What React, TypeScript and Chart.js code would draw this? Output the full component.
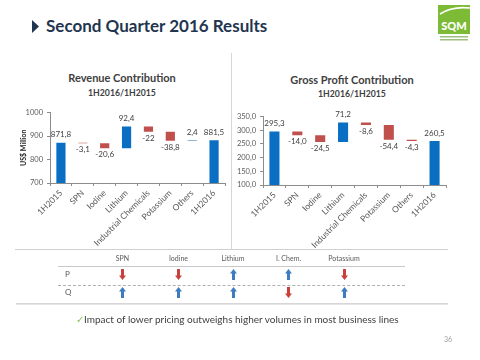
import React, { useEffect, useRef } from "react";
import { Chart, registerables } from "chart.js";

Chart.register(...registerables);

// ---------- data ----------
const categories = ["1H2015", "SPN", "Iodine", "Lithium", "Industrial Chemicals", "Potassium", "Others", "1H2016"];
const revenueValues = [871.8, -3.1, -20.6, 92.4, -22, -38.8, 2.4, 881.5];
const grossProfitValues = [295.3, -14.0, -24.5, 71.2, -8.6, -54.4, -4.3, 260.5];
const revenueTicks = { min: 700, max: 1000, step: 100 };
const profitTicks = { min: 100, max: 350, step: 50 };
const tableHeaders = ["SPN", "Iodine", "Lithium", "I. Chem.", "Potassium"];
const priceTrend = ["down", "down", "up", "up", "down"];
const quantityTrend = ["up", "up", "up", "down", "up"];

const BLUE = "#0a6fc2";
const RED = "#c0504d";
const FONT = "Lato, 'Open Sans', sans-serif";

function waterfall(values: number[]) {
  const out: [number, number][] = [];
  let run = 0;
  values.forEach((v, i) => {
    if (i === 0 || i === values.length - 1) {
      out.push([0, v]);
      run = v;
    } else {
      out.push([run, run + v]);
      run += v;
    }
  });
  return out;
}

const labelPlugin = {
  id: "wfLabels",
  afterDatasetsDraw(chart: any, _args: any, opts: any) {
    const { ctx } = chart;
    const meta = chart.getDatasetMeta(0);
    const values: number[] = opts.values || [];
    const fmt: (v: number) => string = opts.fmt || ((v: number) => String(v));
    ctx.save();
    ctx.font = `8px ${FONT}`;
    ctx.fillStyle = "#404040";
    ctx.textAlign = "center";
    ctx.textBaseline = "middle";
    meta.data.forEach((el: any, i: number) => {
      const p = el.getProps(["x", "y", "base"], true);
      const top = Math.min(p.y, p.base);
      const bottom = Math.max(p.y, p.base);
      const v = values[i];
      const ty = v < 0 ? bottom + 6.5 : top - 8;
      ctx.fillText(fmt(v), p.x, ty);
    });
    ctx.restore();
  },
};

type WFProps = {
  values: number[];
  ticks: { min: number; max: number; step: number };
  tickFmt: (v: number) => string;
  labelFmt: (v: number) => string;
  yTitle?: string;
  yWidth: number;
  xHeight: number;
  padding: { top: number; left: number; right: number; bottom: number };
  barPct: number;
  width: number;
  height: number;
};

function WaterfallChart(props: WFProps) {
  const ref = useRef<HTMLCanvasElement>(null);
  useEffect(() => {
    const n = props.values.length;
    const colors = props.values.map((v, i) => (i === 0 || i === n - 1 || v >= 0 ? BLUE : RED));
    const chart = new Chart(ref.current as HTMLCanvasElement, {
      type: "bar",
      data: {
        labels: categories,
        datasets: [
          {
            data: waterfall(props.values) as any,
            backgroundColor: colors,
            borderSkipped: false,
            borderWidth: 0,
            barPercentage: props.barPct,
            categoryPercentage: 1,
          },
        ],
      },
      options: {
        animation: false,
        responsive: false,
        maintainAspectRatio: false,
        devicePixelRatio: 1,
        layout: { padding: props.padding },
        plugins: {
          legend: { display: false },
          tooltip: { enabled: false },
          wfLabels: { values: props.values, fmt: props.labelFmt },
        } as any,
        scales: {
          x: {
            afterFit: (s: any) => {
              s.height = props.xHeight;
            },
            grid: { drawOnChartArea: false, tickLength: 3, color: "#8c8c8c", offset: true },
            border: { color: "#8c8c8c" },
            ticks: {
              minRotation: 45,
              maxRotation: 45,
              autoSkip: false,
              padding: 2,
              color: "#595959",
              font: { family: FONT, size: 8.5 },
            },
          },
          y: {
            min: props.ticks.min,
            max: props.ticks.max,
            afterFit: (s: any) => {
              s.width = props.yWidth;
            },
            grid: { drawOnChartArea: false, tickLength: 3, color: "#8c8c8c" },
            border: { color: "#8c8c8c" },
            title: props.yTitle
              ? {
                  display: true,
                  text: props.yTitle,
                  color: "#262626",
                  font: { family: FONT, size: 7, weight: "bold" },
                  padding: { top: 0, bottom: 0 },
                }
              : { display: false },
            ticks: {
              stepSize: props.ticks.step,
              padding: 4,
              color: "#595959",
              font: { family: FONT, size: 7.5 },
              callback: (v: any) => props.tickFmt(Number(v)),
            },
          },
        },
      },
      plugins: [labelPlugin],
    });
    return () => chart.destroy();
  }, []);
  return (
    <canvas
      ref={ref}
      width={props.width}
      height={props.height}
      style={{ width: props.width, height: props.height, display: "block" }}
    />
  );
}

function Arrow({ dir }: { dir: string }) {
  const color = dir === "up" ? "#3d7cc0" : "#c9403d";
  const pts = dir === "up" ? "3.5,0 7,4.5 5,4.5 5,11 2,11 2,4.5 0,4.5" : "2,0 5,0 5,6.5 7,6.5 3.5,11 0,6.5 2,6.5";
  return (
    <svg width={7} height={11} style={{ display: "block" }}>
      <polygon points={pts} fill={color} />
    </svg>
  );
}

const abs = (l: number, t: number, extra: any = {}) => ({ position: "absolute" as const, left: l, top: t, ...extra });

export default function App() {
  const colX = [122.5, 178.5, 233, 288.5, 344];
  return (
    <div
      style={{
        position: "fixed",
        left: 0,
        top: 0,
        width: 480,
        height: 360,
        background: "#fff",
        fontFamily: FONT,
        overflow: "hidden",
      }}
    >
      {/* Header */}
      <svg style={abs(32, 20)} width={8} height={13}>
        <polygon points="0,0 7,6.5 0,13" fill="#1f3550" />
      </svg>
      <div style={abs(46, 14, { fontSize: 17, fontWeight: 700, color: "#1f3550", whiteSpace: "nowrap", lineHeight: "24px" })}>
        Second Quarter 2016 Results
      </div>
      {/* Logo */}
      <svg style={abs(438, 5)} width={33} height={40}>
        <rect x={0} y={0} width={32} height={29} fill="#7dbb36" />
        <path d="M2,9 Q14,1 32,3" stroke="#fff" strokeWidth={1.6} fill="none" />
        <text x={16} y={25} textAnchor="middle" fill="#fff" fontFamily={FONT} fontWeight={900} fontSize={11}>
          SQM
        </text>
        <rect x={2} y={31} width={28} height={1.5} fill="#9dbf80" />
        <rect x={2} y={34} width={28} height={1.5} fill="#9dbf80" />
      </svg>

      {/* divider */}
      <div style={abs(231, 53, { width: 1, height: 196, background: "#d6d6d6" })} />

      {/* Left chart titles */}
      <div style={abs(22, 71, { width: 200, textAlign: "center", fontSize: 11, fontWeight: 700, color: "#404040", lineHeight: "14px" })}>
        Revenue Contribution
      </div>
      <div style={abs(22, 86.5, { width: 200, textAlign: "center", fontSize: 8.7, fontWeight: 700, color: "#404040", lineHeight: "12px" })}>
        1H2016/1H2015
      </div>
      <div style={abs(0, 104)}>
        <WaterfallChart
          values={revenueValues}
          ticks={revenueTicks}
          tickFmt={(v) => String(v)}
          labelFmt={(v) => String(v).replace(".", ",")}
          yTitle="US$ Million"
          yWidth={30}
          xHeight={67}
          padding={{ top: 8, left: 20, right: 7, bottom: 0 }}
          barPct={0.42}
          width={232}
          height={146}
        />
      </div>

      {/* Right chart titles */}
      <div style={abs(252, 72.5, { width: 200, textAlign: "center", fontSize: 11, fontWeight: 700, color: "#404040", lineHeight: "14px" })}>
        Gross Profit Contribution
      </div>
      <div style={abs(252, 87.5, { width: 200, textAlign: "center", fontSize: 8.7, fontWeight: 700, color: "#404040", lineHeight: "12px" })}>
        1H2016/1H2015
      </div>
      <div style={abs(232, 108)}>
        <WaterfallChart
          values={grossProfitValues}
          ticks={profitTicks}
          tickFmt={(v) => v.toFixed(1).replace(".", ",")}
          labelFmt={(v) => v.toFixed(1).replace(".", ",")}
          yWidth={31}
          xHeight={65}
          padding={{ top: 8, left: 0, right: 34, bottom: 0 }}
          barPct={0.44}
          width={248}
          height={142}
        />
      </div>

      {/* separator lines */}
      <div style={abs(15, 249, { width: 433, height: 1, background: "#d0d0d0" })} />

      {/* table */}
      {tableHeaders.map((h, i) => (
        <div
          key={h}
          style={abs(colX[i] - 30, 253, { width: 60, textAlign: "center", fontSize: 7, color: "#595959", lineHeight: "10px" })}
        >
          {h}
        </div>
      ))}
      <div style={abs(58, 266, { width: 347, height: 1, background: "#c8c8c8" })} />
      <div style={abs(65, 269, { fontSize: 8, color: "#595959", lineHeight: "10px" })}>P</div>
      {priceTrend.map((d, i) => (
        <div key={"p" + i} style={abs(colX[i] - 3.5, 269)}>
          <Arrow dir={d} />
        </div>
      ))}
      <div style={abs(58, 285, { width: 347, height: 0, borderTop: "1px dashed #b0b0b0" })} />
      <div style={abs(65, 287, { fontSize: 8, color: "#595959", lineHeight: "10px" })}>Q</div>
      {quantityTrend.map((d, i) => (
        <div key={"q" + i} style={abs(colX[i] - 3.5, 287)}>
          <Arrow dir={d} />
        </div>
      ))}
      <div style={abs(16, 303, { width: 432, height: 2, background: "linear-gradient(#cfcfcf, #ececec)" })} />

      {/* footer */}
      <div style={abs(76, 313, { fontSize: 10, color: "#404040", whiteSpace: "nowrap", lineHeight: "13px" })}>
        <span style={{ color: "#8cc152" }}>✓</span>Impact of lower pricing outweighs higher volumes in most business lines
      </div>
      <div style={abs(444, 335, { fontSize: 7, color: "#a0a0a0" })}>36</div>
    </div>
  );
}
